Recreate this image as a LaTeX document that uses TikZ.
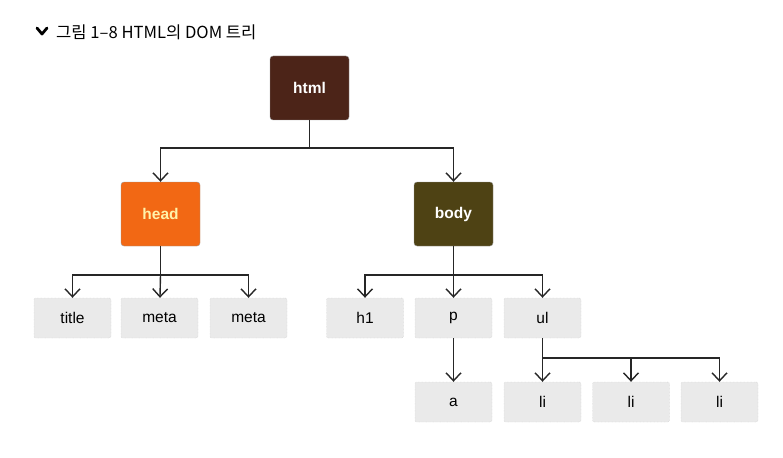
\documentclass[tikz,border=0pt]{standalone}
\usepackage{fontspec}
\setmainfont{Liberation Sans}
\newfontfamily\kofont{Noto Sans CJK KR}
\usetikzlibrary{arrows.meta}
\definecolor{htmlbrown}{RGB}{76,36,24}
\definecolor{headorange}{RGB}{242,104,20}
\definecolor{headyellow}{RGB}{255,242,170}
\definecolor{bodyolive}{RGB}{78,66,20}
\definecolor{leafgray}{RGB}{234,234,234}
\begin{document}
\begin{tikzpicture}[x=1pt,y=-1pt]
    \tikzstyle{elem}=[rectangle, rounded corners=3pt, minimum width=79pt, minimum height=64pt, inner sep=0pt, draw=black!40, font=\fontsize{15.5}{18}\selectfont\bfseries]
    \tikzstyle{leaf}=[rectangle, rounded corners=2pt, fill=leafgray, draw=gray!50, densely dotted, minimum width=77pt, minimum height=40pt, inner sep=0pt, font=\fontsize{15.5}{18}\selectfont]
    \tikzstyle{link}=[line width=1.4pt, black!85]
    \tikzstyle{down}=[link, -{Straight Barb[length=8pt,width=15pt]}]

    \useasboundingbox (0,0) rectangle (783,457);

    % caption
    \draw[line width=2.8pt, line cap=round, line join=round] (37,28) -- (42,34) -- (47,28);
    \node[anchor=west, inner sep=0pt, font=\kofont\fontsize{16.6}{20}\selectfont] (caption) at (56,32) {그림 1–8 HTML의 DOM 트리};

    \node[elem, fill=htmlbrown, text=white] (html) at (309.5,88) {html};
    \node[elem, fill=headorange, text=headyellow] (head) at (160.5,214) {head};
    \node[elem, fill=bodyolive, text=white] (body) at (453.5,214) {body};

    \node[leaf] (title) at (72.5,318) {title};
    \node[leaf] (meta1) at (159.5,318) {meta};
    \node[leaf] (meta2) at (248.5,318) {meta};
    \node[leaf] (h1) at (365,318) {h1};
    \node[leaf] (p) at (453.5,318) {p};
    \node[leaf] (ul) at (542.5,318) {ul};
    \node[leaf] (a) at (453.5,402) {a};
    \node[leaf] (li1) at (542.5,402) {li};
    \node[leaf] (li2) at (631,402) {li};
    \node[leaf] (li3) at (719.5,402) {li};

    \coordinate (rootj) at (309.5,148);
    \coordinate (headj) at (160.5,275);
    \coordinate (bodyj) at (453.5,275);
    \coordinate (ulj) at (542.5,358);

    \draw[link] (html) -- (rootj);
    \draw[down] (rootj) -| (head);
    \draw[down] (rootj) -| (body);

    \draw[link] (head) -- (headj);
    \draw[down] (headj) -| (title);
    \draw[down] (headj) -- (meta1);
    \draw[down] (headj) -| (meta2);

    \draw[link] (body) -- (bodyj);
    \draw[down] (bodyj) -| (h1);
    \draw[down] (bodyj) -- (p);
    \draw[down] (bodyj) -| (ul);

    \draw[down] (p) -- (a);
    \draw[link] (ul) -- (ulj);
    \draw[down] (ulj) -- (li1);
    \draw[down] (ulj) -| (li2);
    \draw[down] (ulj) -| (li3);
\end{tikzpicture}
\end{document}
